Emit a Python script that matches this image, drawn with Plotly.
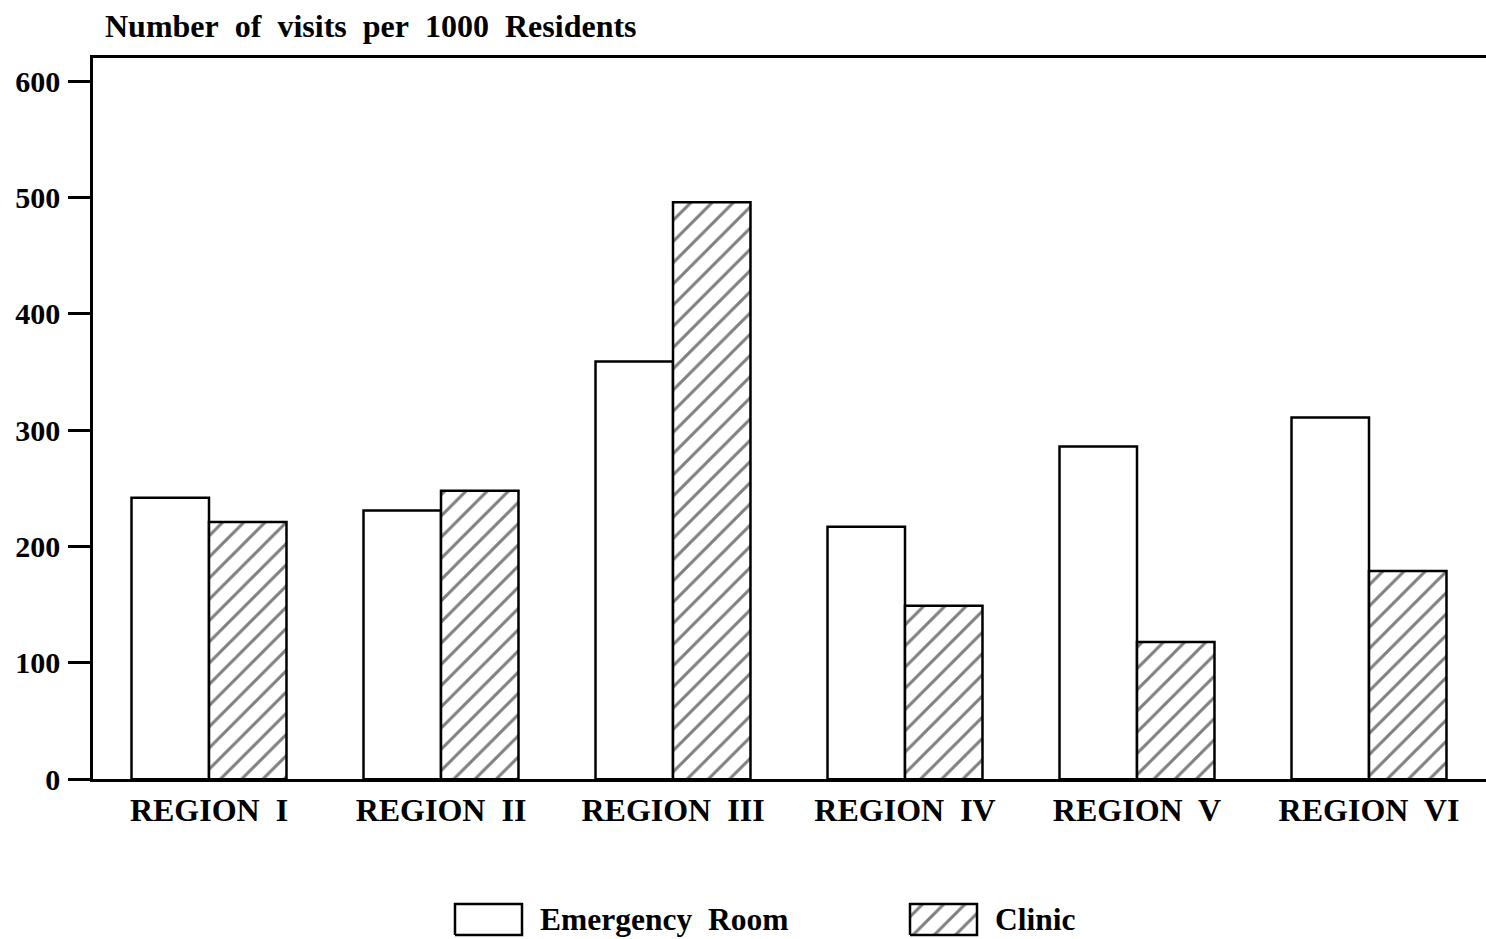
import plotly.graph_objects as go

regions = ["REGION I", "REGION II", "REGION III", "REGION IV", "REGION V", "REGION VI"]
emergency_room = [242, 231, 359, 217, 286, 311]
clinic = [221, 248, 496, 149, 118, 179]
y_ticks = [0, 100, 200, 300, 400, 500, 600]
legend_names = ["Emergency Room", "Clinic"]
title_text = "Number of visits per 1000 Residents"

FONT = "Liberation Serif"
REF_W, REF_H = 1486, 939          # reference picture size
CAP_H = 955                       # observed capture height of the page
SY = CAP_H / REF_H                # vertical pixel conversion reference -> page

# layout targets in reference pixels
PLOT_LEFT, PLOT_TOP, PLOT_BOTTOM = 93, 57, 779
TITLE_Y = 25
CAT_WIDTH_PX = 232

W, H = REF_W, CAP_H
ML = PLOT_LEFT
MT = round(PLOT_TOP * SY)
plot_h = H - MT
plot_w = W - ML
dom_bottom = (CAP_H - PLOT_BOTTOM * SY) / plot_h


def wide(s):
    return s.replace(" ", "\u00a0 ")


hatch = dict(shape="/", fgcolor="black", bgcolor="white", size=15, solidity=0.2)

fig = go.Figure()
fig.add_trace(go.Bar(
    x=regions, y=emergency_room, name=legend_names[0],
    marker=dict(color="white", line=dict(color="black", width=2.5)),
    showlegend=False,
))
fig.add_trace(go.Bar(
    x=regions, y=clinic, name=legend_names[1],
    marker=dict(color="white", line=dict(color="black", width=2.5), pattern=hatch),
    showlegend=False,
))

# custom legend on an auxiliary axis in reference pixels (x from left, y up from bottom)
legend_boxes = [(455, 522), (910, 977)]
box_y = (4, 35)
for i, (x0, x1) in enumerate(legend_boxes):
    kw = dict(fillpattern=hatch) if i == 1 else {}
    fig.add_trace(go.Scatter(
        x=[x0, x1, x1, x0, x0], y=[box_y[0], box_y[0], box_y[1], box_y[1], box_y[0]],
        mode="lines", fill="toself", fillcolor="white",
        line=dict(color="black", width=2.5),
        xaxis="x2", yaxis="y2", showlegend=False, hoverinfo="skip", cliponaxis=False, **kw,
    ))
    fig.add_annotation(
        x=x1 + 16, y=(box_y[0] + box_y[1]) / 2, xref="x2", yref="y2",
        text=wide(legend_names[i]), showarrow=False, xanchor="left", yanchor="middle",
        font=dict(family=FONT, size=31.5, color="black", weight="bold"),
    )

fig.add_annotation(
    x=103, xref="x2", y=1 + (PLOT_TOP - TITLE_Y) * SY / plot_h, yref="paper",
    text=wide(title_text),
    showarrow=False, xanchor="left", yanchor="middle",
    font=dict(family=FONT, size=32, color="black", weight="bold"),
)

fig.update_layout(
    width=W, height=H,
    margin=dict(l=ML, r=0, t=MT, b=0),
    paper_bgcolor="white", plot_bgcolor="white",
    barmode="group", bargap=0.332, bargroupgap=0,
    xaxis=dict(
        domain=[0, 1], anchor="y",
        range=[-0.5, -0.5 + plot_w / CAT_WIDTH_PX],
        tickvals=regions, ticktext=[wide(r) for r in regions],
        showline=True, linecolor="black", linewidth=2.5, mirror=True,
        showgrid=False, ticks="", ticklabelstandoff=1,
        tickfont=dict(family=FONT, size=32, color="black", weight="bold"),
    ),
    yaxis=dict(
        domain=[dom_bottom, 1], anchor="x",
        range=[0, 620], tickvals=y_ticks,
        showline=True, linecolor="black", linewidth=2.5,
        showgrid=False, zeroline=False,
        ticks="outside", ticklen=22, tickwidth=2.5, tickcolor="black",
        ticklabelstandoff=2,
        tickfont=dict(family=FONT, size=30, color="black", weight="bold"),
    ),
    xaxis2=dict(domain=[0, 1], anchor="y2", range=[PLOT_LEFT, PLOT_LEFT + plot_w],
                visible=False, fixedrange=True),
    yaxis2=dict(domain=[0, dom_bottom], anchor="x2",
                range=[0, REF_H - PLOT_BOTTOM], visible=False, fixedrange=True),
)

fig.write_html(
    "out.html",
    config={"displayModeBar": False},
    post_script=(
        "document.body.style.margin='0';"
        "document.body.style.overflow='hidden';"
        "document.documentElement.style.overflow='hidden';"
    ),
)
